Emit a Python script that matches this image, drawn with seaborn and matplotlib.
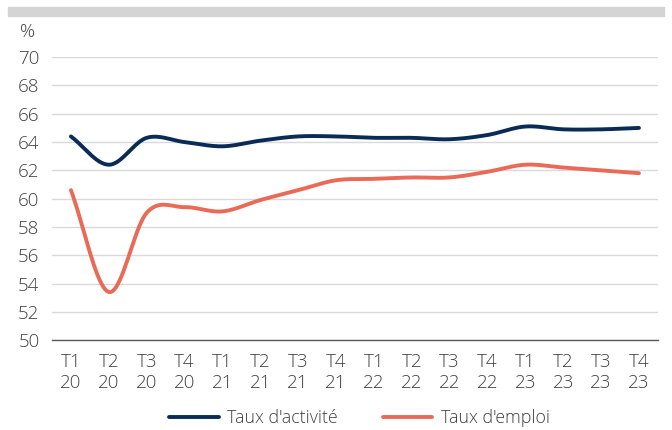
import numpy as np
import pandas as pd
import seaborn as sns
import matplotlib.pyplot as plt
from matplotlib.patches import Rectangle

# Données
quarters = ["T1", "T2", "T3", "T4"] * 4
years = ["20"] * 4 + ["21"] * 4 + ["22"] * 4 + ["23"] * 4
taux_activite = [64.4, 62.4, 64.3, 64.0, 63.7, 64.1, 64.4, 64.4,
                 64.3, 64.3, 64.2, 64.5, 65.1, 64.9, 64.9, 65.0]
taux_emploi = [60.6, 53.4, 59.0, 59.4, 59.1, 59.9, 60.6, 61.3,
               61.4, 61.5, 61.5, 61.9, 62.4, 62.2, 62.0, 61.8]
labels = [q + "\n" + y for q, y in zip(quarters, years)]

navy = "#0b2b57"
coral = "#e96a57"
text_col = "#404040"


def smooth(x, y, n=20):
    """Catmull-Rom spline through the points (like Excel's smoothed line)."""
    x = np.asarray(x, float)
    y = np.asarray(y, float)
    px = np.concatenate([[2 * x[0] - x[1]], x, [2 * x[-1] - x[-2]]])
    py = np.concatenate([[2 * y[0] - y[1]], y, [2 * y[-1] - y[-2]]])
    xs, ys = [], []
    t = np.linspace(0, 1, n, endpoint=False)
    for i in range(1, len(px) - 2):
        for arr, out in ((px, xs), (py, ys)):
            p0, p1, p2, p3 = arr[i - 1], arr[i], arr[i + 1], arr[i + 2]
            out.extend(0.5 * (2 * p1 + (-p0 + p2) * t
                              + (2 * p0 - 5 * p1 + 4 * p2 - p3) * t ** 2
                              + (-p0 + 3 * p1 - 3 * p2 + p3) * t ** 3))
    xs.append(x[-1])
    ys.append(y[-1])
    return np.array(xs), np.array(ys)


sns.set_style("white")
plt.rcParams["font.family"] = ["Open Sans", "DejaVu Sans"]
plt.rcParams["font.weight"] = "light"

fig = plt.figure(figsize=(6.72, 4.30), dpi=100)
ax = fig.add_axes([0.0774, 0.209, 0.9016, 0.658])

pos = np.arange(len(labels))
for values, name, col in [(taux_activite, "Taux d'activité", navy),
                          (taux_emploi, "Taux d'emploi", coral)]:
    sx, sy = smooth(pos, values)
    df = pd.DataFrame({"x": sx, "y": sy})
    sns.lineplot(data=df, x="x", y="y", ax=ax, color=col, linewidth=2.8,
                 label=name, sort=False)

ax.set_xlim(-0.5, len(labels) - 0.5)
ax.set_ylim(50, 70)
ax.set_yticks(np.arange(50, 71, 2))
ax.yaxis.grid(True, color="#d9d9d9", linewidth=1.0)
ax.set_axisbelow(True)
for s in ["top", "right", "left"]:
    ax.spines[s].set_visible(False)
ax.spines["bottom"].set_color("#595959")
ax.spines["bottom"].set_linewidth(1.0)

ax.set_xticks(pos)
ax.set_xticklabels(labels, linespacing=1.25)
ax.set_xticks(np.arange(-0.5, len(labels), 1), minor=True)
ax.tick_params(axis="x", which="major", length=0, pad=9,
               labelsize=13.5, labelcolor=text_col)
ax.tick_params(axis="x", which="minor", length=5, color="#595959", width=1)
ax.tick_params(axis="y", length=0, pad=9, labelsize=13.5, labelcolor=text_col)
ax.set_xlabel("")
ax.set_ylabel("")

fig.text(0.030, 0.925, "%", fontsize=13.5, color=text_col, va="center")

# bande grise en haut
fig.patches.append(Rectangle((8 / 672, 1 - 16 / 430), 656 / 672, 9 / 430,
                             transform=fig.transFigure, color="#d4d4d4",
                             zorder=0))

ax.get_legend().remove()
handles, names = ax.get_legend_handles_labels()
fig.legend(handles, names, loc="center", bbox_to_anchor=(0.535, 0.028),
           ncol=2, frameon=False, fontsize=12.8, handlelength=2.8,
           columnspacing=2.5, handletextpad=0.5, labelcolor=text_col)

fig.savefig("out.png", dpi=100)
